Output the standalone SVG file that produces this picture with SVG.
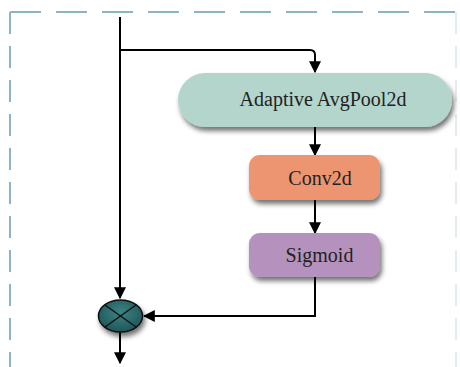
<svg xmlns="http://www.w3.org/2000/svg" width="460" height="367" viewBox="0 0 460 367">
  <style>
    .frame { stroke: #8db3c6; stroke-width: 2; fill: none; }
    .wire { stroke: #000; stroke-width: 2; fill: none; }
    .label { font-family: "Liberation Serif", "DejaVu Serif", serif; font-size: 20px; fill: #222; text-anchor: middle; }
  </style>
  <defs>
    <marker id="arrow" viewBox="0 0 10 10" refX="9" refY="5" markerWidth="6" markerHeight="6" orient="auto" markerUnits="strokeWidth">
      <path d="M0,0 L10,5 L0,10 z" fill="#000"/>
    </marker>
    <filter id="shadow" x="-20%" y="-30%" width="150%" height="170%">
      <feDropShadow dx="2" dy="4" stdDeviation="2.5" flood-color="#000" flood-opacity="0.55"/>
    </filter>
    <radialGradient id="ballFill" cx="50%" cy="40%" r="60%">
      <stop offset="0" stop-color="#3c8485"/>
      <stop offset="1" stop-color="#1f5658"/>
    </radialGradient>
  </defs>

  <!-- dashed module boundary -->
  <g id="frame">
    <line class="frame" x1="10" y1="12" x2="460" y2="12" stroke-dasharray="31 15"/>
    <line class="frame" x1="10" y1="12" x2="10" y2="367" stroke-dasharray="22 12"/>
    <line class="frame" x1="456" y1="12" x2="456" y2="367" stroke-dasharray="22 12" stroke-opacity="0.25"/>
  </g>

  <!-- connectors -->
  <g id="connectors">
    <line class="wire" x1="120" y1="17" x2="120" y2="298" marker-end="url(#arrow)"/>
    <path class="wire" d="M120,50 H310 Q315,50 315,55 V72" marker-end="url(#arrow)"/>
    <line class="wire" x1="315" y1="127" x2="315" y2="155" marker-end="url(#arrow)"/>
    <line class="wire" x1="315" y1="200" x2="315" y2="233" marker-end="url(#arrow)"/>
    <path class="wire" d="M315,277 V316 H144" marker-end="url(#arrow)"/>
    <line class="wire" x1="120" y1="332" x2="120" y2="363" marker-end="url(#arrow)"/>
  </g>

  <g id="avgpool">
    <rect x="178" y="73" width="274" height="54" rx="27" fill="#b3d5cc" filter="url(#shadow)"/>
    <text class="label" x="323" y="106">Adaptive AvgPool2d</text>
  </g>

  <g id="conv2d">
    <rect x="249" y="155" width="131" height="45" rx="11" fill="#ec956f" filter="url(#shadow)"/>
    <text class="label" x="320" y="185">Conv2d</text>
  </g>

  <g id="sigmoid">
    <rect x="249" y="233" width="131" height="44" rx="11" fill="#b592bd" filter="url(#shadow)"/>
    <text class="label" x="319.5" y="262">Sigmoid</text>
  </g>

  <g id="multiply">
    <ellipse cx="120.5" cy="316" rx="22" ry="16" fill="url(#ballFill)" stroke="#111" stroke-width="1.5" filter="url(#shadow)"/>
    <line x1="105" y1="305" x2="136" y2="327" stroke="#111" stroke-width="1.5"/>
    <line x1="136" y1="305" x2="105" y2="327" stroke="#111" stroke-width="1.5"/>
  </g>
</svg>
